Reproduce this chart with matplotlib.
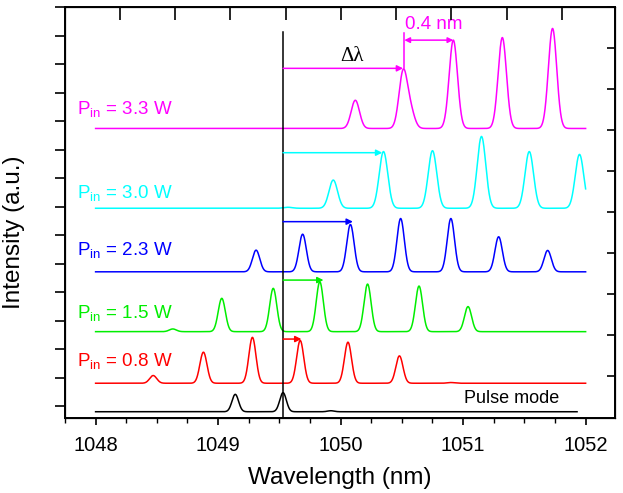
import numpy as np
import matplotlib
matplotlib.use("Agg")
import matplotlib.pyplot as plt
from matplotlib.ticker import MultipleLocator, FixedLocator, NullFormatter

plt.rcParams["font.family"] = ["Liberation Sans", "DejaVu Sans"]
plt.rcParams["mathtext.fontset"] = "custom"
plt.rcParams["mathtext.rm"] = "Liberation Sans"
plt.rcParams["mathtext.it"] = "Liberation Sans:italic"

# --- данные (центры пиков в нм, высоты в отн. ед.) ---
labels = ["Pulse mode", "0.8 W", "1.5 W", "2.3 W", "3.0 W", "3.3 W"]
colors = ["black", "#FF0000", "#00EE00", "#0000FF", "#00FFFF", "#FF00FF"]
offsets = [-0.20, 0.80, 2.61, 4.71, 6.94, 9.74]
x_end = [1051.93, 1052.0, 1052.0, 1052.0, 1052.0, 1052.0]
widths = [0.027, 0.029, 0.029, 0.030, 0.035, 0.034]

centers_pulse = [1049.14, 1049.53, 1049.92]
heights_pulse = [0.61, 0.67, 0.035]
centers_08 = [1048.47, 1048.88, 1049.28, 1049.67, 1050.06, 1050.48, 1050.90]
heights_08 = [0.27, 1.09, 1.61, 1.50, 1.44, 0.96, 0.025]
centers_15 = [1048.63, 1049.03, 1049.45, 1049.83, 1050.22, 1050.64, 1051.04]
heights_15 = [0.095, 1.17, 1.52, 1.75, 1.67, 1.60, 0.88]
centers_23 = [1049.31, 1049.69, 1050.08, 1050.49, 1050.90, 1051.29, 1051.69]
heights_23 = [0.76, 1.32, 1.66, 1.87, 1.87, 1.23, 0.75]
centers_30 = [1049.57, 1049.94, 1050.35, 1050.75, 1051.15, 1051.54, 1051.95]
heights_30 = [0.035, 0.99, 1.99, 2.02, 2.52, 1.99, 1.89]
centers_33 = [1050.12, 1050.51, 1050.57, 1050.92, 1051.32, 1051.73]
heights_33 = [0.99, 1.95, 0.60, 3.10, 3.19, 3.51]

peak_centers = [centers_pulse, centers_08, centers_15, centers_23, centers_30, centers_33]
peak_heights = [heights_pulse, heights_08, heights_15, heights_23, heights_30, heights_33]

# стрелки сдвига: (конец стрелки по x, уровень по y)
ref_line = 1049.53
arrow_ends = [None, 1049.68, 1049.86, 1050.10, 1050.34, 1050.51]
arrow_levels = [None, 2.35, 4.42, 6.47, 8.89, 11.85]
label_levels = [0.26, 1.59, 3.27, 5.47, 7.47, 10.44]


def spectrum(x, centers, heights, sigma):
    y = np.zeros_like(x)
    for c, h in zip(centers, heights):
        y += h * np.exp(-0.5 * ((x - c) / sigma) ** 2)
    return y


fig = plt.figure(figsize=(6.23, 4.93), dpi=100)
ax = fig.add_axes([0.1043, 0.1527, 0.8829, 0.8341])

for i in range(len(labels)):
    x = np.linspace(1048.0, x_end[i], 2500)
    y = offsets[i] + spectrum(x, peak_centers[i], peak_heights[i], widths[i])
    ax.plot(x, y, color=colors[i], lw=1.1)
    if arrow_ends[i] is not None:
        ax.annotate("", xy=(arrow_ends[i], arrow_levels[i]),
                    xytext=(ref_line, arrow_levels[i]),
                    arrowprops=dict(arrowstyle="-|>", color=colors[i], lw=1.1,
                                    mutation_scale=9, shrinkA=0, shrinkB=0))

# подписи мощности
for i in range(1, len(labels)):
    ax.text(1047.845, label_levels[i], r"P$_{\mathrm{in}}$ = " + labels[i],
            color=colors[i], fontsize=13.5, va="center", ha="left")
ax.text(1051.40, label_levels[0], labels[0], color="black", fontsize=13,
        va="center", ha="center")

# вертикальная опорная линия
ax.plot([ref_line, ref_line], [-0.5, 13.12], color="black", lw=1.1)

# 0.4 nm
ax.plot([1050.52, 1050.52], [11.85, 13.09], color="#FF00FF", lw=1.1)
ax.annotate("", xy=(1050.92, 12.84), xytext=(1050.52, 12.84),
            arrowprops=dict(arrowstyle="<|-|>", color="#FF00FF", lw=1.1,
                            mutation_scale=8, shrinkA=0, shrinkB=0))
ax.text(1050.76, 13.40, "0.4 nm", color="#FF00FF", fontsize=13.5,
        ha="center", va="center")
ax.text(1050.09, 12.25, "Δλ", color="black", fontsize=15,
        family="Liberation Serif", ha="center", va="center")

ax.set_xlim(1047.75, 1052.24)
ax.set_ylim(-0.41, 14.02)
ax.xaxis.set_major_locator(MultipleLocator(1))
ax.xaxis.set_minor_locator(MultipleLocator(0.25))
ax.yaxis.set_major_locator(MultipleLocator(1))
ax.yaxis.set_major_formatter(NullFormatter())
ax.tick_params(axis="x", which="major", direction="out", length=5, width=1.2,
               labelsize=14.5, pad=8)
ax.tick_params(axis="x", which="minor", direction="out", length=3.5, width=1.0)
ax.tick_params(axis="y", which="major", direction="out", length=7, width=1.2)
for s in ax.spines.values():
    s.set_linewidth(1.4)

# верхняя и правая оси со своими делениями
top = ax.twiny()
top.set_xlim(ax.get_xlim())
top.xaxis.set_major_locator(FixedLocator(1048.196 + 0.4515 * np.arange(10)))
top.xaxis.set_major_formatter(NullFormatter())
top.tick_params(axis="x", direction="in", length=9, width=1.2)
right = ax.twinx()
right.set_ylim(ax.get_ylim())
right.yaxis.set_major_locator(FixedLocator(1.05 + 1.44 * np.arange(10)))
right.yaxis.set_major_formatter(NullFormatter())
right.tick_params(axis="y", direction="in", length=6, width=1.2)

ax.set_xlabel("Wavelength (nm)", fontsize=17.5, labelpad=9)
ax.set_ylabel("Intensity (a.u.)", fontsize=17.5)
ax.yaxis.set_label_coords(-0.073, 0.45)

fig.savefig("out.png", dpi=100)
